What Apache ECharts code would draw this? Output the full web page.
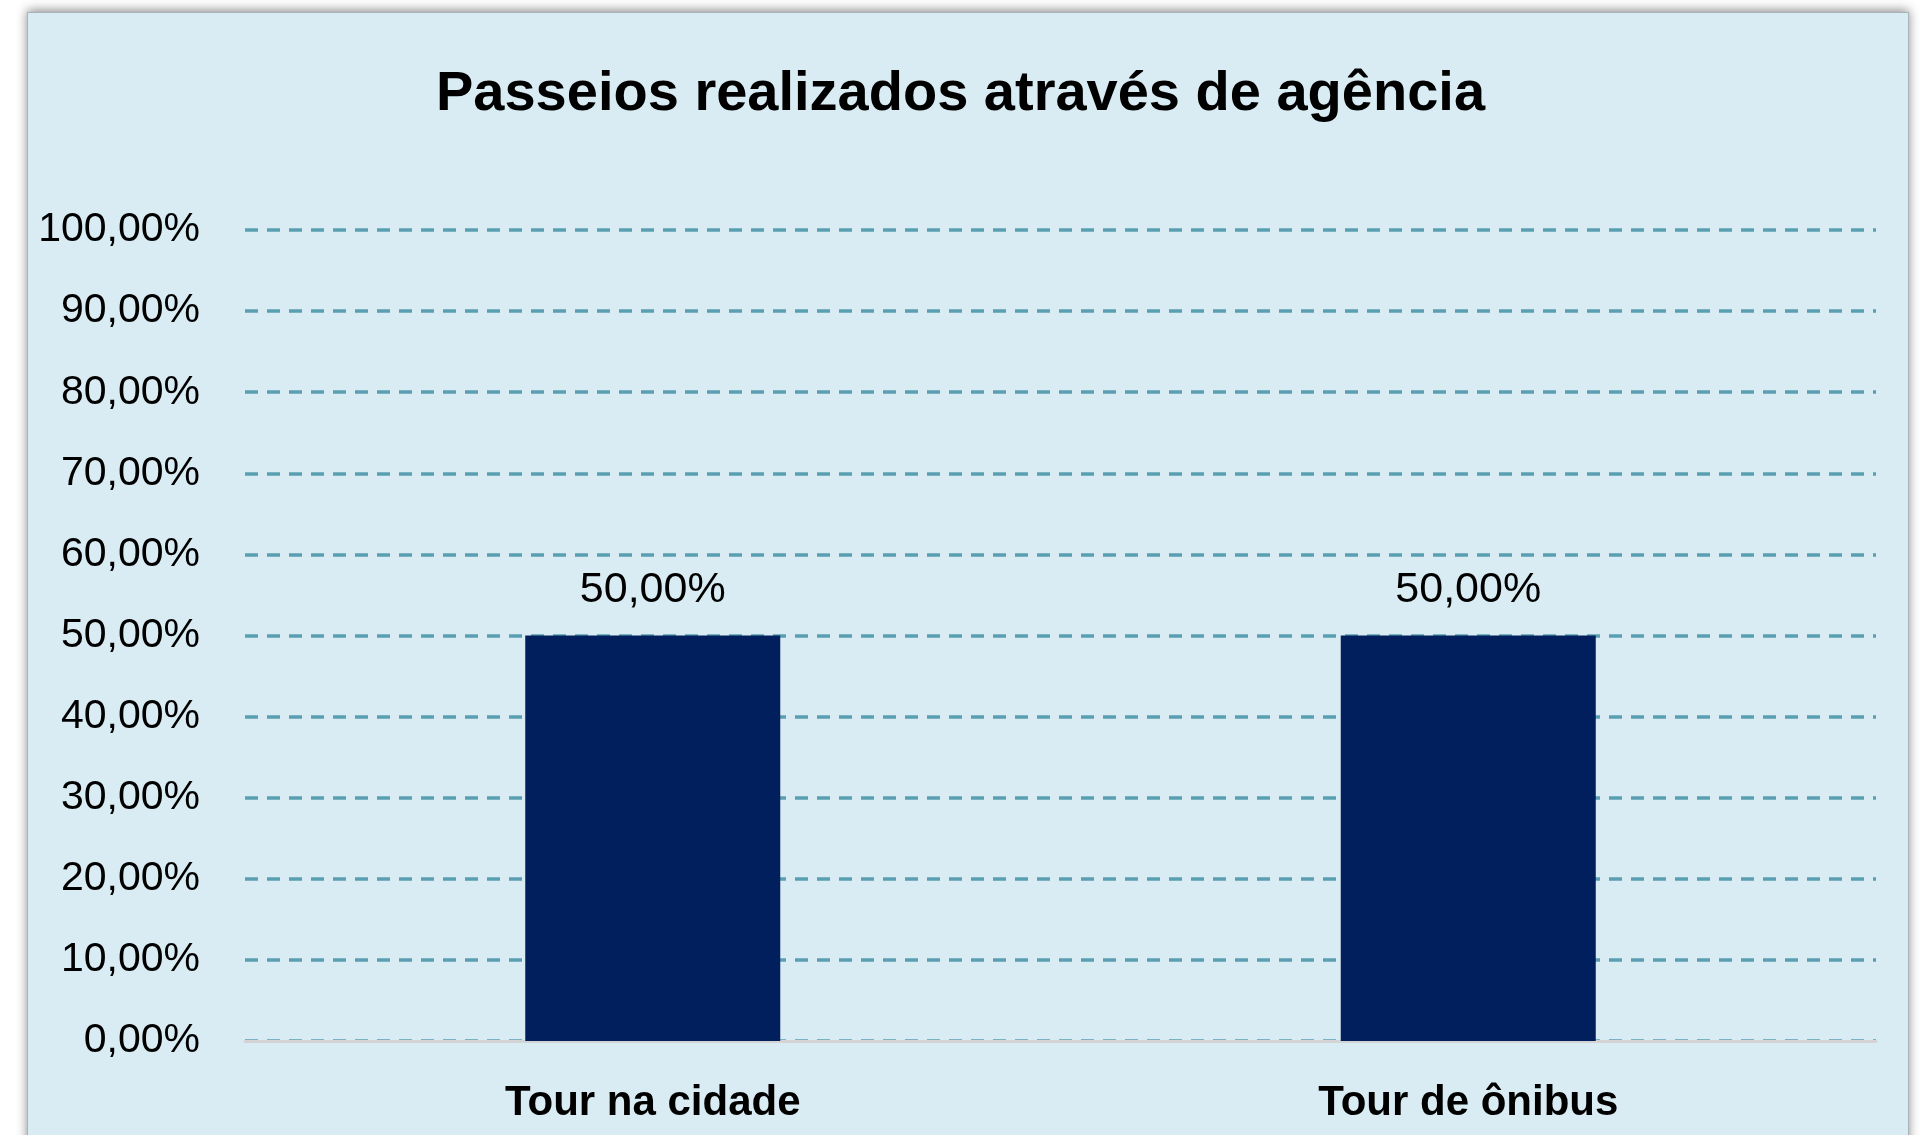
<!DOCTYPE html>
<html>
<head>
<meta charset="utf-8">
<script src="https://cdn.jsdelivr.net/npm/echarts@6/dist/echarts.min.js"></script>
<style>
  html, body { margin: 0; padding: 0; background: #ffffff; overflow: hidden; }
  #panel {
    position: absolute;
    left: 27px;
    top: 12px;
    width: 1880px;
    height: 1160px;
    background: #daecf3;
    border: 1px solid #a9b4b8;
    box-shadow: 0 -2px 10px rgba(0, 0, 0, 0.45);
  }
  #chart {
    position: absolute;
    left: 0;
    top: 0;
    width: 1921px;
    height: 1135px;
  }
</style>
</head>
<body>
<div id="panel"></div>
<div id="chart"></div>
<script>
// dados do gráfico
var categorias = ["Tour na cidade", "Tour de ônibus"];
var valores = [50, 50];
var eixoMin = 0;
var eixoMax = 100;
var eixoPasso = 10;

var fonte = "'Liberation Sans', Arial, sans-serif";

function formataPct(v) {
  return Number(v).toFixed(2).replace(".", ",") + "%";
}

var myChart = echarts.init(document.getElementById("chart"));
var option = {
  backgroundColor: "transparent",
  title: {
    text: "Passeios realizados através de agência",
    left: "center",
    top: 62,
    textStyle: {
      fontFamily: fonte,
      fontSize: 56,
      fontWeight: "bold",
      color: "#000000"
    }
  },
  grid: {
    left: 245,
    right: 45,
    top: 230,
    bottom: 94,
    containLabel: false
  },
  xAxis: {
    type: "category",
    data: categorias,
    axisLine: { show: true, lineStyle: { color: "#d4d4d4", width: 3 } },
    axisTick: { show: false },
    axisLabel: {
      margin: 41,
      fontFamily: fonte,
      fontSize: 42,
      fontWeight: "bold",
      color: "#000000"
    }
  },
  yAxis: {
    type: "value",
    min: eixoMin,
    max: eixoMax,
    interval: eixoPasso,
    axisLine: { show: false },
    axisTick: { show: false },
    axisLabel: {
      margin: 45,
      fontFamily: fonte,
      fontSize: 41,
      color: "#000000",
      formatter: formataPct
    },
    splitLine: {
      show: true,
      lineStyle: { color: "#5a9fb1", width: 3.5, type: [13, 9] }
    }
  },
  series: [
    {
      type: "bar",
      data: valores,
      barWidth: 255,
      itemStyle: { color: "#001f5c" },
      label: {
        show: true,
        position: "top",
        distance: 24,
        fontFamily: fonte,
        fontSize: 43,
        color: "#000000",
        formatter: function (p) { return formataPct(p.value); }
      }
    }
  ]
};
myChart.setOption(option);
window.addEventListener("resize", function () {
  myChart.resize();
});
</script>
</body>
</html>
